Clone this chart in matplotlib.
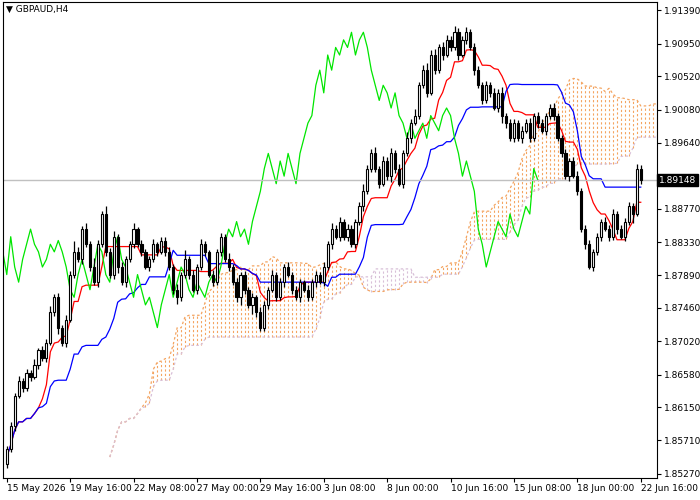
import numpy as np
import matplotlib
matplotlib.use("Agg")
import matplotlib.pyplot as plt

symbol = "GBPAUD,H4"
first_open = 1.8540
closes = [
    1.8560, 1.8590, 1.8630, 1.8650, 1.8640, 1.8660, 1.8655, 1.8670, 1.8690, 1.8680,
    1.8700, 1.8740, 1.8760, 1.8720, 1.8700, 1.8730, 1.8790, 1.8820, 1.8810, 1.8850,
    1.8830, 1.8800, 1.8780, 1.8830, 1.8870, 1.8820, 1.8790, 1.8840, 1.8800, 1.8780,
    1.8810, 1.8830, 1.8850, 1.8830, 1.8820, 1.8800, 1.8810, 1.8830, 1.8820, 1.8835,
    1.8820, 1.8800, 1.8770, 1.8760, 1.8790, 1.8810, 1.8790, 1.8770, 1.8800, 1.8830,
    1.8820, 1.8790, 1.8780, 1.8820, 1.8840, 1.8810, 1.8800, 1.8780, 1.8760, 1.8790,
    1.8770, 1.8750, 1.8760, 1.8740, 1.8720, 1.8750, 1.8770, 1.8790, 1.8760, 1.8780,
    1.8800, 1.8790, 1.8770, 1.8760, 1.8780, 1.8770, 1.8760, 1.8780, 1.8790, 1.8780,
    1.8800, 1.8830, 1.8850, 1.8840, 1.8860, 1.8840, 1.8850, 1.8830, 1.8860, 1.8880,
    1.8900, 1.8930, 1.8950, 1.8930, 1.8910, 1.8940, 1.8920, 1.8950, 1.8930, 1.8910,
    1.8950, 1.8970, 1.8990, 1.9000, 1.9040, 1.9060, 1.9030, 1.9080, 1.9060, 1.9090,
    1.9080, 1.9100, 1.9090, 1.9110, 1.9080, 1.9100, 1.9110, 1.9090, 1.9060, 1.9040,
    1.9020, 1.9040, 1.9030, 1.9010, 1.9030, 1.9000, 1.8990, 1.8970, 1.8990, 1.8970,
    1.8980, 1.8990, 1.8970, 1.9000, 1.8990, 1.8980, 1.9000, 1.9010, 1.9000, 1.8970,
    1.8950, 1.8920, 1.8940, 1.8920, 1.8900, 1.8850, 1.8830, 1.8800, 1.8820, 1.8840,
    1.8860, 1.8850, 1.8840, 1.8870, 1.8850, 1.8840, 1.8860, 1.8880, 1.8870, 1.8930,
    1.8915,
]
# wick lengths above / below the body, in pips (0.0001)
up_wick = [
    3, 5, 4, 6, 3, 5, 4, 8, 3, 6, 5, 9, 4, 6, 3, 7, 5, 15, 6, 4,
    8, 5, 12, 6, 4, 10, 5, 7, 3, 6, 4, 5, 8, 3, 6, 4, 5, 7, 3, 4,
    5, 6, 4, 8, 3, 12, 5, 6, 4, 7, 5, 3, 6, 4, 5, 3, 8, 4, 6, 3,
    5, 4, 6, 3, 7, 5, 4, 6, 3, 5, 4, 6, 3, 5, 4, 3, 6, 4, 5, 3,
    6, 4, 8, 5, 6, 4, 7, 5, 4, 6, 9, 5, 6, 8, 4, 6, 5, 7, 4, 6,
    5, 8, 6, 9, 5, 7, 10, 6, 8, 5, 7, 6, 5, 8, 6, 5, 7, 4, 6, 5,
    5, 6, 4, 7, 5, 8, 4, 6, 5, 4, 6, 5, 7, 4, 5, 6, 4, 5, 6, 4,
    5, 6, 4, 5, 7, 4, 5, 6, 4, 5, 4, 6, 5, 7, 4, 6, 5, 6, 4, 6,
    5,
]
down_wick = [
    5, 4, 6, 3, 5, 4, 6, 3, 5, 4, 6, 3, 5, 8, 4, 6, 3, 5, 4, 6,
    3, 5, 4, 6, 3, 5, 4, 6, 8, 4, 6, 3, 5, 4, 6, 3, 5, 4, 6, 3,
    5, 4, 6, 9, 5, 4, 6, 3, 5, 4, 6, 3, 5, 4, 6, 3, 5, 4, 6, 10,
    5, 4, 12, 6, 5, 4, 6, 3, 5, 4, 6, 3, 5, 4, 6, 3, 5, 4, 6, 3,
    5, 4, 6, 3, 5, 4, 6, 3, 5, 4, 6, 3, 5, 4, 6, 3, 5, 8, 6, 3,
    5, 4, 6, 3, 5, 4, 6, 3, 5, 4, 6, 3, 5, 4, 6, 3, 5, 4, 6, 3,
    5, 4, 6, 3, 5, 10, 6, 3, 5, 4, 6, 3, 5, 4, 6, 3, 5, 4, 6, 3,
    5, 4, 6, 3, 5, 4, 6, 3, 5, 4, 6, 3, 5, 4, 6, 3, 5, 4, 12, 3,
    5,
]
tick_labels = ["15 May 2026", "19 May 16:00", "22 May 08:00", "27 May 00:00",
               "29 May 16:00", "3 Jun 08:00", "8 Jun 00:00", "10 Jun 16:00",
               "15 Jun 08:00", "18 Jun 00:00", "22 Jun 16:00"]
price_ticks = [1.91390, 1.90950, 1.90520, 1.90080, 1.89640, 1.88770, 1.88330,
               1.87890, 1.87460, 1.87020, 1.86580, 1.86150, 1.85710, 1.85270]
last_price = 1.89148

c = np.array(closes)
o = np.concatenate([[first_open], c[:-1]])
hi = np.maximum(o, c) + np.array(up_wick) * 1e-4
lo = np.minimum(o, c) - np.array(down_wick) * 1e-4
n = len(c)
x = np.arange(n)

def mid(period):
    out = np.full(n, np.nan)
    for i in range(n):
        s = max(0, i - period + 1)
        out[i] = (hi[s:i + 1].max() + lo[s:i + 1].min()) / 2
    return out

tenkan = mid(9)
kijun = mid(26)
span_a = (tenkan + kijun) / 2
span_b = mid(52)
xs = x + 26

fig = plt.figure(figsize=(7, 5), dpi=100)
ax = fig.add_axes([0.004, 0.045, 0.934, 0.951])

# cloud hatch
for xi, a, b in zip(xs, span_a, span_b):
    col = "#f4a460" if a >= b else "#d8bfd8"
    ax.vlines(xi, min(a, b), max(a, b), colors=col, linestyles=(0, (2, 2)), lw=0.8)
ax.plot(xs, span_a, color="#f4a460", ls=(0, (2, 2)), lw=0.9)
ax.plot(xs, span_b, color="#d8bfd8", ls=(0, (2, 2)), lw=0.9)

ax.plot(x, tenkan, color="red", lw=0.9)
ax.plot(x, kijun, color="blue", lw=0.9)
ax.plot(x - 26, c, color="#00e600", lw=0.9)

ax.axhline(last_price, color="#c0c0c0", lw=1)

# candles
w = 0.55
for i in range(n):
    ax.vlines(i, lo[i], hi[i], colors="black", lw=0.9, zorder=3)
    bull = c[i] >= o[i]
    ax.bar(i, max(abs(c[i] - o[i]), 0.00005), bottom=min(o[i], c[i]), width=w,
           color="white" if bull else "black", edgecolor="black", lw=0.8, zorder=4)

ax.set_xlim(-1, n + 3)
ax.set_ylim(1.8522, 1.9150)
ax.yaxis.tick_right()
ax.set_yticks(price_ticks)
ax.set_yticklabels([f"{p:.5f}" for p in price_ticks], fontsize=6.5)
ax.set_xticks(np.arange(0, n, 16))
ax.set_xticklabels(tick_labels, fontsize=6.5, ha="left")
ax.tick_params(length=3, pad=2)
ax.text(1.004, last_price, f"{last_price:.5f}", transform=ax.get_yaxis_transform(),
        fontsize=6.5, color="white", va="center", ha="left",
        bbox=dict(boxstyle="square,pad=0.2", fc="black", ec="black"))
ax.text(0.005, 0.993, "\u25bc " + symbol, transform=ax.transAxes, fontsize=6.5,
        va="top", ha="left")

fig.savefig("out.png", dpi=100)
